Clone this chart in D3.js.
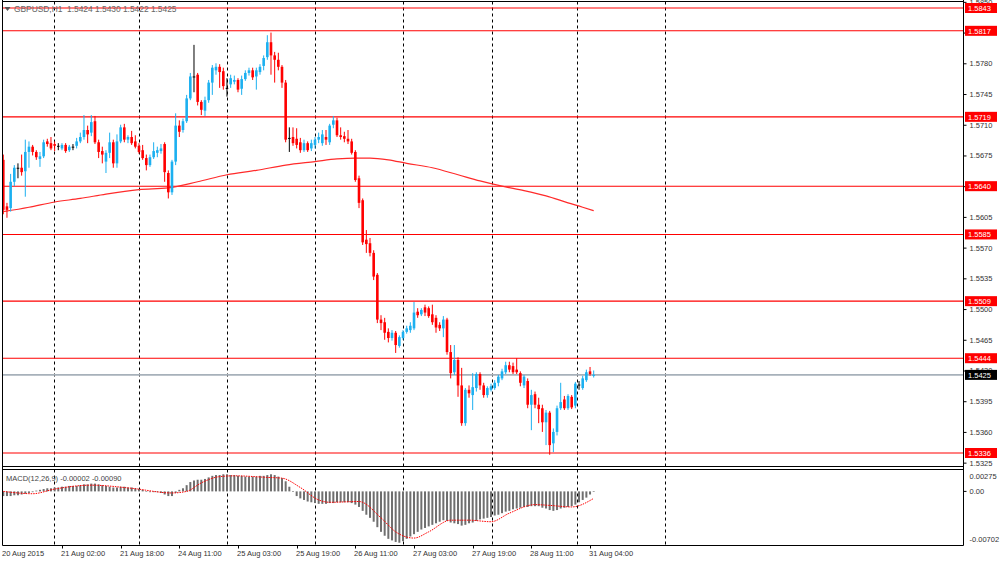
<!DOCTYPE html>
<html>
<head>
<meta charset="utf-8">
<script src="https://cdn.jsdelivr.net/npm/d3@7"></script>
<style>
  body { margin: 0; background: #fff; }
  svg { display: block; font-family: "Liberation Sans", Arial, sans-serif; }
</style>
</head>
<body>
<svg id="chart" width="1000" height="561"></svg>
<script>
/* ------------------------- RAW DATA (GBPUSD H1) ------------------------- */

const opens = [1.5670,1.5617,1.5615,1.5645,1.5661,1.5661,1.5657,1.5679,1.5685,1.5679,1.5671,1.5674,1.5691,1.5689,1.5688,1.5686,1.5683,1.5687,1.5681,1.5685,
  1.5686,1.5691,1.5696,1.5704,1.5701,1.5714,1.5690,1.5680,1.5668,1.5678,1.5690,1.5666,1.5691,1.5707,1.5693,1.5696,1.5691,1.5686,1.5681,1.5672,
  1.5664,1.5673,1.5678,1.5680,1.5688,1.5655,1.5633,1.5668,1.5709,1.5704,1.5714,1.5740,1.5765,1.5767,1.5736,1.5726,1.5738,1.5758,1.5772,1.5776,
  1.5771,1.5752,1.5756,1.5759,1.5761,1.5751,1.5762,1.5769,1.5772,1.5765,1.5770,1.5777,1.5787,1.5804,1.5789,1.5784,1.5776,1.5758,1.5695,1.5696,
  1.5694,1.5690,1.5681,1.5689,1.5683,1.5687,1.5693,1.5689,1.5696,1.5690,1.5710,1.5715,1.5698,1.5697,1.5694,1.5691,1.5679,1.5649,1.5624,1.5579,
  1.5575,1.5564,1.5539,1.5488,1.5485,1.5474,1.5467,1.5473,1.5458,1.5467,1.5474,1.5476,1.5478,1.5497,1.5494,1.5502,1.5501,1.5494,1.5490,1.5482,
  1.5478,1.5488,1.5451,1.5428,1.5442,1.5413,1.5370,1.5408,1.5402,1.5410,1.5426,1.5413,1.5402,1.5408,1.5410,1.5416,1.5421,1.5428,1.5436,1.5435,
  1.5431,1.5427,1.5413,1.5418,1.5391,1.5403,1.5391,1.5387,1.5371,1.5382,1.5347,1.5360,1.5387,1.5397,1.5387,1.5400,1.5390,1.5414,1.5410,1.5419,
  1.5429,1.5424]
const highs = [1.5676,1.5621,1.5654,1.5664,1.5666,1.5676,1.5693,1.5691,1.5687,1.5681,1.5679,1.5693,1.5694,1.5696,1.5691,1.5689,1.5689,1.5689,1.5687,1.5688,
  1.5695,1.5701,1.5721,1.5709,1.5721,1.5720,1.5693,1.5685,1.5681,1.5701,1.5693,1.5699,1.5710,1.5711,1.5698,1.5703,1.5698,1.5689,1.5687,1.5676,
  1.5676,1.5690,1.5685,1.5688,1.5690,1.5658,1.5670,1.5723,1.5715,1.5717,1.5744,1.5769,1.5801,1.5769,1.5738,1.5742,1.5761,1.5778,1.5780,1.5779,
  1.5775,1.5763,1.5767,1.5766,1.5763,1.5766,1.5772,1.5775,1.5775,1.5775,1.5779,1.5789,1.5812,1.5815,1.5793,1.5792,1.5778,1.5761,1.5707,1.5707,
  1.5706,1.5695,1.5693,1.5691,1.5693,1.5696,1.5701,1.5704,1.5704,1.5711,1.5720,1.5718,1.5707,1.5702,1.5704,1.5694,1.5681,1.5652,1.5626,1.5590,
  1.5581,1.5567,1.5541,1.5493,1.5490,1.5478,1.5476,1.5475,1.5470,1.5476,1.5481,1.5485,1.5508,1.5501,1.5501,1.5505,1.5503,1.5505,1.5493,1.5485,
  1.5492,1.5490,1.5459,1.5459,1.5445,1.5433,1.5410,1.5413,1.5427,1.5428,1.5428,1.5416,1.5412,1.5415,1.5419,1.5425,1.5432,1.5440,1.5440,1.5439,
  1.5444,1.5429,1.5425,1.5421,1.5408,1.5406,1.5399,1.5391,1.5385,1.5384,1.5364,1.5390,1.5416,1.5401,1.5403,1.5402,1.5417,1.5418,1.5424,1.5431,
  1.5434,1.5430]
const lows = [1.5608,1.5604,1.5611,1.5640,1.5649,1.5652,1.5628,1.5661,1.5675,1.5670,1.5662,1.5672,1.5685,1.5681,1.5680,1.5681,1.5681,1.5678,1.5679,1.5681,
  1.5683,1.5689,1.5693,1.5689,1.5697,1.5688,1.5672,1.5666,1.5655,1.5672,1.5661,1.5661,1.5689,1.5690,1.5689,1.5687,1.5683,1.5677,1.5670,1.5658,
  1.5662,1.5671,1.5673,1.5677,1.5645,1.5626,1.5630,1.5664,1.5696,1.5701,1.5712,1.5738,1.5747,1.5732,1.5721,1.5720,1.5735,1.5744,1.5767,1.5752,
  1.5750,1.5742,1.5752,1.5756,1.5747,1.5744,1.5760,1.5766,1.5761,1.5750,1.5767,1.5772,1.5784,1.5767,1.5758,1.5772,1.5752,1.5690,1.5679,1.5686,
  1.5683,1.5678,1.5679,1.5679,1.5680,1.5683,1.5689,1.5686,1.5687,1.5687,1.5706,1.5696,1.5693,1.5690,1.5688,1.5676,1.5645,1.5615,1.5573,1.5564,
  1.5560,1.5533,1.5484,1.5476,1.5465,1.5462,1.5464,1.5450,1.5456,1.5465,1.5472,1.5473,1.5476,1.5490,1.5492,1.5492,1.5490,1.5482,1.5473,1.5475,
  1.5468,1.5448,1.5421,1.5425,1.5400,1.5367,1.5367,1.5399,1.5385,1.5406,1.5408,1.5399,1.5399,1.5406,1.5408,1.5412,1.5419,1.5426,1.5428,1.5426,
  1.5426,1.5412,1.5410,1.5387,1.5362,1.5387,1.5370,1.5360,1.5345,1.5334,1.5337,1.5356,1.5385,1.5385,1.5385,1.5386,1.5387,1.5408,1.5408,1.5417,
  1.5424,1.5422]
const closes = [1.5613,1.5613,1.5645,1.5661,1.5661,1.5656,1.5679,1.5685,1.5679,1.5673,1.5674,1.5690,1.5688,1.5683,1.5686,1.5686,1.5687,1.5680,1.5685,1.5685,
  1.5691,1.5696,1.5704,1.5699,1.5713,1.5690,1.5679,1.5676,1.5678,1.5690,1.5666,1.5691,1.5707,1.5693,1.5696,1.5689,1.5685,1.5679,1.5672,1.5664,
  1.5673,1.5680,1.5681,1.5683,1.5656,1.5633,1.5668,1.5709,1.5702,1.5714,1.5740,1.5765,1.5765,1.5736,1.5727,1.5738,1.5758,1.5775,1.5776,1.5770,
  1.5754,1.5752,1.5763,1.5761,1.5750,1.5762,1.5769,1.5772,1.5764,1.5772,1.5776,1.5786,1.5804,1.5789,1.5784,1.5776,1.5758,1.5693,1.5695,1.5689,
  1.5687,1.5681,1.5689,1.5681,1.5689,1.5693,1.5696,1.5699,1.5693,1.5709,1.5715,1.5698,1.5696,1.5694,1.5691,1.5678,1.5647,1.5621,1.5576,1.5574,
  1.5564,1.5537,1.5488,1.5484,1.5473,1.5467,1.5473,1.5459,1.5468,1.5474,1.5478,1.5481,1.5496,1.5493,1.5499,1.5496,1.5492,1.5485,1.5479,1.5478,
  1.5488,1.5451,1.5427,1.5442,1.5413,1.5370,1.5408,1.5404,1.5411,1.5426,1.5413,1.5402,1.5410,1.5412,1.5416,1.5423,1.5429,1.5436,1.5431,1.5428,
  1.5428,1.5416,1.5423,1.5391,1.5402,1.5391,1.5386,1.5371,1.5382,1.5345,1.5360,1.5387,1.5394,1.5387,1.5401,1.5388,1.5415,1.5414,1.5421,1.5428,
  1.5426,1.5425]

// moving average read at a few bars
const maBars = [0, 7, 14, 21, 28, 37, 45, 53, 61, 69, 77, 85, 91, 96, 100, 105, 110, 117, 124, 130, 136, 142, 148, 154, 158, 161]
const maValues = [1.5611, 1.5616, 1.5622, 1.5626, 1.5631, 1.5636, 1.5638, 1.5645, 1.5653, 1.5658, 1.5664, 1.5668, 1.5671, 1.5672, 1.5672,
  1.5670, 1.5666, 1.5661, 1.5653, 1.5646, 1.5640, 1.5635, 1.5629, 1.5621, 1.5616, 1.5612]

// MACD(12,26,9) main histogram, one per bar
const macdHist = [-0.0006,-0.0006,-0.0006,-0.0005,-0.0005,-0.0004,-0.0003,-0.0002,-0.0001,
  0.0001,0.0002,0.0003,0.0004,0.0004,
  0.0005,0.0005,0.0006,0.0006,0.0007,0.0007,0.0007,0.0008,0.0009,0.0009,0.0010,0.0010,0.0009,0.0008,
  0.0007,0.0006,0.0005,0.0005,0.0006,0.0006,0.0005,0.0005,0.0004,
  0.0003,0.0002,0.0000,-0.0001,-0.0001,-0.0001,-0.0002,-0.0004,-0.0006,-0.0006,-0.0002,
  0.0002,0.0004,0.0008,0.0012,0.0014,
  0.0015,0.0015,0.0016,0.0018,0.0020,0.0021,
  0.0021,0.0022,0.0022,0.0021,0.0021,0.0020,0.0020,0.0019,0.0019,0.0019,0.0019,0.0020,
  0.0020,0.0021,0.0022,0.0021,0.0019,
  0.0017,0.0013,0.0006,0.0000,-0.0006,-0.0009,-0.0011,-0.0013,-0.0014,-0.0015,-0.0016,-0.0016,-0.0016,-0.0015,-0.0015,
  -0.0014,-0.0014,-0.0014,-0.0014,-0.0015,-0.0017,-0.0020,-0.0025,-0.0030,-0.0034,-0.0039,-0.0046,-0.0052,-0.0057,-0.0061,
  -0.0063,-0.0065,-0.0066,-0.0064,-0.0061,-0.0058,-0.0055,-0.0052,-0.0049,-0.0047,-0.0045,-0.0043,-0.0041,-0.0039,-0.0037,
  -0.0038,-0.0040,-0.0041,-0.0042,-0.0044,-0.0043,-0.0041,-0.0040,-0.0038,-0.0036,-0.0035,-0.0034,-0.0033,-0.0031,-0.0030,
  -0.0028,-0.0026,-0.0025,-0.0023,-0.0022,-0.0021,-0.0020,-0.0020,-0.0019,-0.0019,-0.0019,-0.0021,-0.0022,-0.0024,-0.0025,
  -0.0024,-0.0022,-0.0021,-0.0020,-0.0019,-0.0017,-0.0014,-0.0011,-0.0008,-0.0004,-0.00002]

// signal line read at a few bars
const signalBars = [0, 8, 14, 24, 35, 46, 50, 54, 59, 63, 72, 76, 81, 86, 89, 97, 103, 107, 112, 116, 122, 127, 133, 138, 145, 149, 155, 161]
const signalValues = [0.0000, -0.0003, 0.0003, 0.0008, 0.0004, -0.0002, 0.0000, 0.0011, 0.0019, 0.0020, 0.0018, 0.0017, 0.0005, -0.0011,
  -0.0014, -0.0013, -0.0034, -0.0052, -0.0060, -0.0052, -0.0037, -0.0037, -0.0039, -0.0028, -0.0017, -0.0018, -0.0020, -0.0009]

const levels = [1.5843, 1.5817, 1.5719, 1.5640, 1.5585, 1.5509, 1.5444, 1.5336]
const bidPrice = 1.5425
const priceTicks = [1.5850, 1.5815, 1.5780, 1.5745, 1.5710, 1.5675, 1.5640, 1.5605, 1.5570, 1.5535, 1.5500, 1.5465, 1.5430, 1.5395, 1.5360, 1.5325]
const macdTicks = [0.00275, 0, -0.00702]
const macdTickLabels = ["0.00275", "0.00", "-0.00702"]
const timeLabels = ["20 Aug 2015", "21 Aug 02:00", "21 Aug 18:00", "24 Aug 11:00", "25 Aug 03:00", "25 Aug 19:00",
  "26 Aug 11:00", "27 Aug 03:00", "27 Aug 19:00", "28 Aug 11:00", "31 Aug 04:00"]
const timeLabelBars = [0, 16, 32, 48, 64, 80, 96, 112, 128, 144, 160]
const gridBars = [13.9, 37, 61.1, 85.1, 109.1, 133.2, 156.4, 180.4]
const header = "GBPUSD,H1  1.5424 1.5430 1.5422 1.5425"
const macdTitle = "MACD(12,26,9) -0.00002 -0.00090"

/* ------------------------- LAYOUT ------------------------- */

const W = 1000
const axisX = 963.5
const mainTop = 1.5, mainBottom = 466.5
const macdTop = 469.5, macdBottom = 545.5

const BULL = "#1cb0f0", BEAR = "#ff0000", DOJI = "#000000"

let svg = d3.select("#chart")

let x = d3.scaleLinear().domain([0, 161]).range([3.3, 593.7])
let y = d3.scaleLinear().domain([1.5336, 1.5843]).range([453, 8])
let yMacd = d3.scaleLinear().domain([-0.00702, 0.00275]).range([546, 470])

let bars = closes.map(function (c, i) {
    return { i: i, o: opens[i], h: highs[i], l: lows[i], c: c }
})

svg.append("defs").append("clipPath").attr("id", "mainClip")
    .append("rect").attr("x", 2.5).attr("y", mainTop).attr("width", axisX - 2.5).attr("height", mainBottom - mainTop)

/* --------------------- GRID --------------------- */

let grid = svg.append("g").attr("class", "grid")
gridBars.forEach(function (b) {
    let gx = Math.round(x(b)) + 0.5
    grid.append("line").attr("x1", gx).attr("x2", gx).attr("y1", mainTop).attr("y2", mainBottom)
        .attr("stroke", "#000").attr("stroke-dasharray", "3,3")
    grid.append("line").attr("x1", gx).attr("x2", gx).attr("y1", macdTop).attr("y2", macdBottom)
        .attr("stroke", "#000").attr("stroke-dasharray", "3,3")
})

/* --------------------- MAIN PANEL --------------------- */

let main = svg.append("g").attr("clip-path", "url(#mainClip)")

main.selectAll("line.level").data(levels).enter().append("line")
    .attr("class", "level")
    .attr("x1", 2).attr("x2", axisX)
    .attr("y1", function (d) { return y(d) }).attr("y2", function (d) { return y(d) })
    .attr("stroke", "#ff0000").attr("stroke-width", 1.1)

main.append("line")
    .attr("x1", 2).attr("x2", axisX)
    .attr("y1", y(bidPrice)).attr("y2", y(bidPrice))
    .attr("stroke", "#a7b1ba").attr("stroke-width", 1.6)

let maLine = d3.line()
    .x(function (d) { return x(d[0]) })
    .y(function (d) { return y(d[1]) })
    .curve(d3.curveMonotoneX)

main.append("path")
    .datum(maBars.map(function (b, k) { return [b, maValues[k]] }))
    .attr("d", maLine)
    .attr("fill", "none").attr("stroke", "#ff2a2a").attr("stroke-width", 1.2)

function candleColor(d) {
    if (d.c > d.o) return BULL
    if (d.c < d.o) return BEAR
    return DOJI
}

let candles = main.append("g").attr("class", "candles")
    .selectAll("g").data(bars).enter().append("g")

candles.append("line")
    .attr("x1", function (d) { return x(d.i) }).attr("x2", function (d) { return x(d.i) })
    .attr("y1", function (d) { return y(d.h) }).attr("y2", function (d) { return y(d.l) })
    .attr("stroke", candleColor).attr("stroke-width", 1)

candles.append("rect")
    .attr("x", function (d) { return x(d.i) - 1.3 })
    .attr("width", 2.6)
    .attr("y", function (d) { return y(Math.max(d.o, d.c)) })
    .attr("height", function (d) { return Math.max(1, Math.abs(y(d.o) - y(d.c))) })
    .attr("fill", candleColor)

/* --------------------- MACD PANEL --------------------- */

let macd = svg.append("g")

macd.selectAll("rect").data(macdHist).enter().append("rect")
    .attr("x", function (d, i) { return x(i) - 1 })
    .attr("width", 2)
    .attr("y", function (d) { return Math.min(yMacd(d), yMacd(0)) })
    .attr("height", function (d) { return Math.max(0.6, Math.abs(yMacd(d) - yMacd(0))) })
    .attr("fill", "#6f6f6f")

let sigLine = d3.line()
    .x(function (d) { return x(d[0]) })
    .y(function (d) { return yMacd(d[1]) })
    .curve(d3.curveMonotoneX)

macd.append("path")
    .datum(signalBars.map(function (b, k) { return [b, signalValues[k]] }))
    .attr("d", sigLine)
    .attr("fill", "none").attr("stroke", "#ff0000").attr("stroke-width", 1)
    .attr("stroke-dasharray", "1.5,1")

macd.append("text").attr("x", 6).attr("y", 481)
    .attr("font-size", 7.5).attr("fill", "#444").text(macdTitle)

/* --------------------- FRAMES --------------------- */

let frame = svg.append("g").attr("stroke", "#000").attr("stroke-width", 1)
frame.append("line").attr("x1", 2.5).attr("x2", 2.5).attr("y1", 0).attr("y2", macdBottom)
frame.append("line").attr("x1", axisX).attr("x2", axisX).attr("y1", 0).attr("y2", macdBottom)
frame.append("line").attr("x1", 2.5).attr("x2", axisX).attr("y1", mainTop).attr("y2", mainTop)
frame.append("line").attr("x1", 2.5).attr("x2", axisX).attr("y1", mainBottom).attr("y2", mainBottom)
frame.append("line").attr("x1", 2.5).attr("x2", axisX).attr("y1", macdTop).attr("y2", macdTop)
frame.append("line").attr("x1", 2.5).attr("x2", axisX).attr("y1", macdBottom).attr("y2", macdBottom)

/* --------------------- HEADER --------------------- */

svg.append("path").attr("d", "M4.5,7 L10.5,7 L7.5,11 Z").attr("fill", "#555")
svg.append("text").attr("x", 14).attr("y", 12)
    .attr("font-size", 8.4).attr("fill", "#666").attr("xml:space", "preserve").text(header)

/* --------------------- RIGHT AXIS --------------------- */

let yAxis = d3.axisRight(y).tickValues(priceTicks).tickSize(3).tickPadding(3)
    .tickFormat(d3.format(".4f"))
let ay = svg.append("g").attr("transform", "translate(" + axisX + ",0)").call(yAxis)
ay.select(".domain").remove()
ay.selectAll("text").attr("font-size", 7.5).attr("fill", "#333").attr("font-family", "Liberation Sans, Arial, sans-serif")

let am = svg.append("g").attr("transform", "translate(" + axisX + ",0)")
am.append("line").attr("x1", 0).attr("x2", 3).attr("y1", yMacd(0)).attr("y2", yMacd(0)).attr("stroke", "#000")
am.selectAll("text").data(macdTicks).enter().append("text")
    .attr("x", 6)
    .attr("y", function (d, i) { return yMacd(d) + (i == 0 ? 9 : i == 2 ? -4 : 3) })
    .attr("font-size", 7.5).attr("fill", "#333")
    .text(function (d, i) { return macdTickLabels[i] })

function priceTag(value, bg) {
    let g = svg.append("g").attr("transform", "translate(" + (axisX + 1.5) + "," + y(value) + ")")
    g.append("rect").attr("x", 0).attr("y", -5).attr("width", 32).attr("height", 10).attr("fill", bg)
    g.append("text").attr("x", 3).attr("y", 3).attr("font-size", 7.5).attr("fill", "#fff")
        .text(d3.format(".4f")(value))
}
levels.forEach(function (l) { priceTag(l, "#ff0000") })
priceTag(bidPrice, "#000000")

/* --------------------- TIME AXIS --------------------- */

let ax = svg.append("g")
timeLabelBars.forEach(function (b, k) {
    let tx = Math.round(x(b)) + 0.5
    if (k > 0) ax.append("line").attr("x1", tx).attr("x2", tx).attr("y1", macdBottom).attr("y2", macdBottom + 3).attr("stroke", "#000")
    ax.append("text").attr("x", tx - 1.5).attr("y", 556)
        .attr("font-size", 7.5).attr("fill", "#333").text(timeLabels[k])
})
</script>
</body>
</html>
